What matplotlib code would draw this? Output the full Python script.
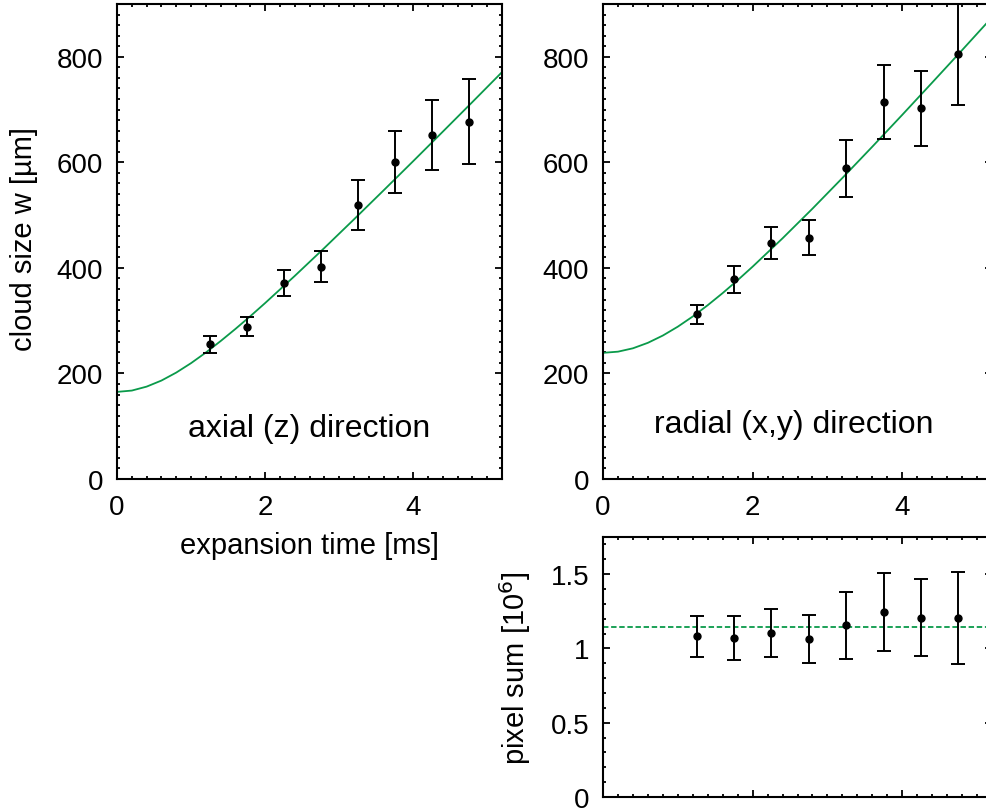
import matplotlib
matplotlib.use("Agg")
import matplotlib.pyplot as plt
from matplotlib.ticker import MultipleLocator

plt.rcParams['font.family'] = ['Liberation Sans', 'DejaVu Sans']

# expansion times [ms]
t_exp = [1.25, 1.75, 2.25, 2.75, 3.25, 3.75, 4.25, 4.75]

# axial (z) cloud size [um]
w_axial = [255, 288, 371, 402, 519, 600, 652, 677]
err_axial = [16, 18, 25, 29, 47, 59, 66, 81]

# radial (x,y) cloud size [um]
w_radial = [312, 378, 447, 457, 589, 714, 702, 805]
err_radial = [18, 25, 30, 33, 54, 70, 71, 97]

# fit curves
t_fit = [0, 0.2, 0.4, 0.6, 0.8, 1.0, 1.2, 1.4, 1.6, 1.8, 2.0,
         2.4, 2.8, 3.2, 3.6, 4.0, 4.4, 4.8, 5.2]
fit_axial = [165, 167.5, 175, 186.5, 201.6, 219.5, 239.6, 261.4, 284.4, 308.4,
             333.3, 384.7, 437.7, 491.9, 546.8, 602.2, 658.1, 714.3, 771]
fit_radial = [239, 241.2, 247.6, 258, 271.8, 288.6, 307.9, 329.3, 352.3, 376.7,
              402.3, 456, 512.2, 570.3, 629.6, 689.9, 751, 812.5, 874.7]

# pixel sum [10^6]
psum = [1.082, 1.071, 1.105, 1.062, 1.156, 1.244, 1.208, 1.206]
err_psum = [0.137, 0.15, 0.16, 0.16, 0.226, 0.263, 0.26, 0.31]
psum_mean = 1.145

GREEN = '#0a9a4a'
FS = 20


def style_axes(ax, ymaj, ymin):
    ax.set_xlim(0, 5.2)
    ax.xaxis.set_major_locator(MultipleLocator(2))
    ax.xaxis.set_minor_locator(MultipleLocator(0.2))
    ax.yaxis.set_major_locator(MultipleLocator(ymaj))
    ax.yaxis.set_minor_locator(MultipleLocator(ymin))
    ax.tick_params(which='both', direction='in', top=True, right=True,
                   labelsize=FS, width=1.3)
    ax.tick_params(axis='y', pad=10)
    ax.tick_params(axis='x', pad=11)
    ax.tick_params(which='major', length=5)
    ax.tick_params(which='minor', length=2.5)
    for s in ax.spines.values():
        s.set_linewidth(1.5)


def draw_points(ax, y, err):
    ax.errorbar(t_exp, y, yerr=err, fmt='o', color='black', ms=5,
                elinewidth=1.4, capsize=5, capthick=1.4, zorder=3)


fig = plt.figure(figsize=(9.86, 8.12), dpi=100)

ax1 = fig.add_axes([0.1187, 0.4089, 0.3905, 0.585])
ax1.plot(t_fit, fit_axial, color=GREEN, lw=1.3)
draw_points(ax1, w_axial, err_axial)
style_axes(ax1, 200, 20)
ax1.set_ylim(0, 900)
ax1.set_ylabel('cloud size w [µm]', fontsize=21)
ax1.yaxis.set_label_coords(-0.204, 0.507)
ax1.set_xlabel('expansion time [ms]', fontsize=21)
ax1.xaxis.set_label_coords(0.5, -0.11)
ax1.text(0.5, 0.107, 'axial (z) direction', transform=ax1.transAxes,
         ha='center', va='center', fontsize=23)

ax2 = fig.add_axes([0.6116, 0.4089, 0.3945, 0.585])
ax2.plot(t_fit, fit_radial, color=GREEN, lw=1.3)
draw_points(ax2, w_radial, err_radial)
style_axes(ax2, 200, 20)
ax2.set_ylim(0, 900)
ax2.text(0.49, 0.115, 'radial (x,y) direction', transform=ax2.transAxes,
         ha='center', va='center', fontsize=23)

ax3 = fig.add_axes([0.6116, 0.01724, 0.3945, 0.3202])
ax3.axhline(psum_mean, color=GREEN, lw=1.3, ls=(0, (3, 1.5)))
draw_points(ax3, psum, err_psum)
style_axes(ax3, 0.5, 0.1)
ax3.set_ylim(0, 1.75)
ax3.set_yticks([0, 0.5, 1, 1.5])
ax3.set_yticklabels(['0', '0.5', '1', '1.5'])
ax3.tick_params(labelbottom=False)
ax3.set_ylabel('pixel sum [10$^6$]', fontsize=21)
ax3.yaxis.set_label_coords(-0.18, 0.5)

fig.savefig('out.png', dpi=100)
